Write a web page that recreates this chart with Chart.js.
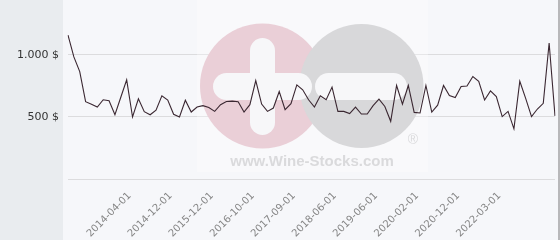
<!DOCTYPE html>
<html><head><meta charset="utf-8">
<script src="https://cdn.jsdelivr.net/npm/chart.js@4/dist/chart.umd.min.js"></script>
<style>html,body{margin:0;padding:0;background:#f6f7fa;overflow:hidden}canvas{display:block}</style>
</head><body>
<canvas id="c" width="560" height="240"></canvas>
<script>
// x categories (only some dates are shown as tick labels)
const categories = [
  '', '', '', '', '', '', '', '', '', '',
  '2014-04-01', '', '', '', '', '', '',
  '2014-12-01', '', '', '', '', '', '',
  '2015-12-01', '', '', '', '', '', '',
  '2016-10-01', '', '', '', '', '', '',
  '2017-09-01', '', '', '', '', '', '',
  '2018-06-01', '', '', '', '', '', '',
  '2019-06-01', '', '', '', '', '', '',
  '2020-02-01', '', '', '', '', '', '',
  '2020-12-01', '', '', '', '', '', '',
  '2022-03-01', '', '', '', '', '', '', '', '', '', ''
];
// price series ($)
const prices = [
  1160, 984, 866, 623, 603, 580, 639, 631, 518, 659,
  799, 500, 647, 543, 518, 555, 671, 636, 522, 500,
  635, 540, 580, 591, 577, 545, 599, 625, 628, 623,
  540, 599, 794, 604, 545, 572, 705, 559, 607, 759,
  719, 639, 580, 671, 639, 741, 545, 545, 527, 580,
  524, 524, 591, 644, 585, 465, 754, 604, 754, 537,
  532, 754, 540, 595, 754, 673, 657, 746, 749, 826,
  788, 637, 710, 664, 503, 545, 404, 788, 650, 503,
  564, 610, 1096, 509
];
// y tick values
const yTickValues = [500, 1000];
const yMin = 0, yMax = 1443;

function fmt(v){ return String(v).replace(/\B(?=(\d{3})+(?!\d))/g, '.') + ' $'; }

const bgPlugin = {
  id: 'bg',
  beforeDraw(chart){
    const c = chart.ctx, a = chart.chartArea;
    c.save();
    c.fillStyle = '#f6f7fa'; c.fillRect(0, 0, chart.width, chart.height);
    c.fillStyle = '#e9ecef'; c.fillRect(0, 0, a.left - 5, chart.height);
    c.fillStyle = '#b8b8ba'; c.fillRect(chart.width - 2, 0, 2, chart.height);
    c.restore();
  }
};

function pill(c, x1, y1, x2, y2){
  const w = x2 - x1, h = y2 - y1;
  const rr = Math.min(w / 2, h / 2);
  c.beginPath();
  c.moveTo(x1 + rr, y1);
  c.lineTo(x2 - rr, y1);
  c.arc(x2 - rr, y1 + rr, rr, -Math.PI/2, 0);
  c.lineTo(x2, y2 - rr);
  c.arc(x2 - rr, y2 - rr, rr, 0, Math.PI/2);
  c.lineTo(x1 + rr, y2);
  c.arc(x1 + rr, y2 - rr, rr, Math.PI/2, Math.PI);
  c.lineTo(x1, y1 + rr);
  c.arc(x1 + rr, y1 + rr, rr, Math.PI, Math.PI*1.5);
  c.closePath();
  c.fill();
}

const watermark = {
  id: 'wm',
  beforeDatasetsDraw(chart){
    const c = chart.ctx;
    c.save();
    c.fillStyle = 'rgba(255,255,255,0.3)';
    c.fillRect(197, 0, 231, 172);
    c.fillStyle = '#eacfd7';
    c.beginPath(); c.arc(262.5, 86, 62.5, 0, Math.PI*2); c.fill();
    c.fillStyle = '#d8d8da';
    c.beginPath(); c.arc(361.5, 86, 62, 0, Math.PI*2); c.fill();
    c.fillStyle = '#f7f7f9';
    pill(c, 250, 38, 275, 135);
    pill(c, 213, 73, 312, 100);
    pill(c, 315, 73, 407, 100);
    c.fillStyle = '#dadadc';
    c.font = 'bold 15px "Liberation Sans", Arial, sans-serif';
    c.textAlign = 'center'; c.textBaseline = 'alphabetic';
    c.fillText('www.Wine-Stocks.com', 312, 166);
    c.font = '14px "Liberation Sans", Arial, sans-serif';
    c.fillText('®', 413, 144);
    c.restore();
  }
};

new Chart(document.getElementById('c'), {
  type: 'line',
  data: {
    labels: categories,
    datasets: [{
      data: prices,
      borderColor: '#3a2731',
      borderWidth: 1.1,
      pointRadius: 0,
      tension: 0,
      fill: false
    }]
  },
  options: {
    responsive: false,
    animation: false,
    devicePixelRatio: 1,
    layout: { padding: { left: 0, right: 5, top: 0, bottom: 0 } },
    plugins: { legend: { display: false }, tooltip: { enabled: false } },
    scales: {
      x: {
        afterFit(s){ s.height = 61; s.paddingLeft = 0; s.paddingRight = 0; },
        grid: { display: false, drawTicks: false },
        border: { display: false },
        ticks: {
          autoSkip: false, minRotation: 45, maxRotation: 45, padding: 11, labelOffset: 3,
          color: '#858585', font: { family: 'DejaVu Sans', size: 10 }
        }
      },
      y: {
        min: yMin, max: yMax,
        afterFit(s){ s.width = 68; s.paddingTop = 0; s.paddingBottom = 0; },
        afterBuildTicks(s){ s.ticks = [{value: 0}].concat(yTickValues.map(v => ({value: v}))); },
        grid: { color: '#dcdcde', drawTicks: false, lineWidth: 1 },
        border: { display: false },
        ticks: {
          padding: 9, color: '#333',
          font: { family: 'DejaVu Sans', size: 11 },
          callback: v => v === 0 ? '' : fmt(v)
        }
      }
    }
  },
  plugins: [bgPlugin, watermark]
});
</script>
</body></html>
